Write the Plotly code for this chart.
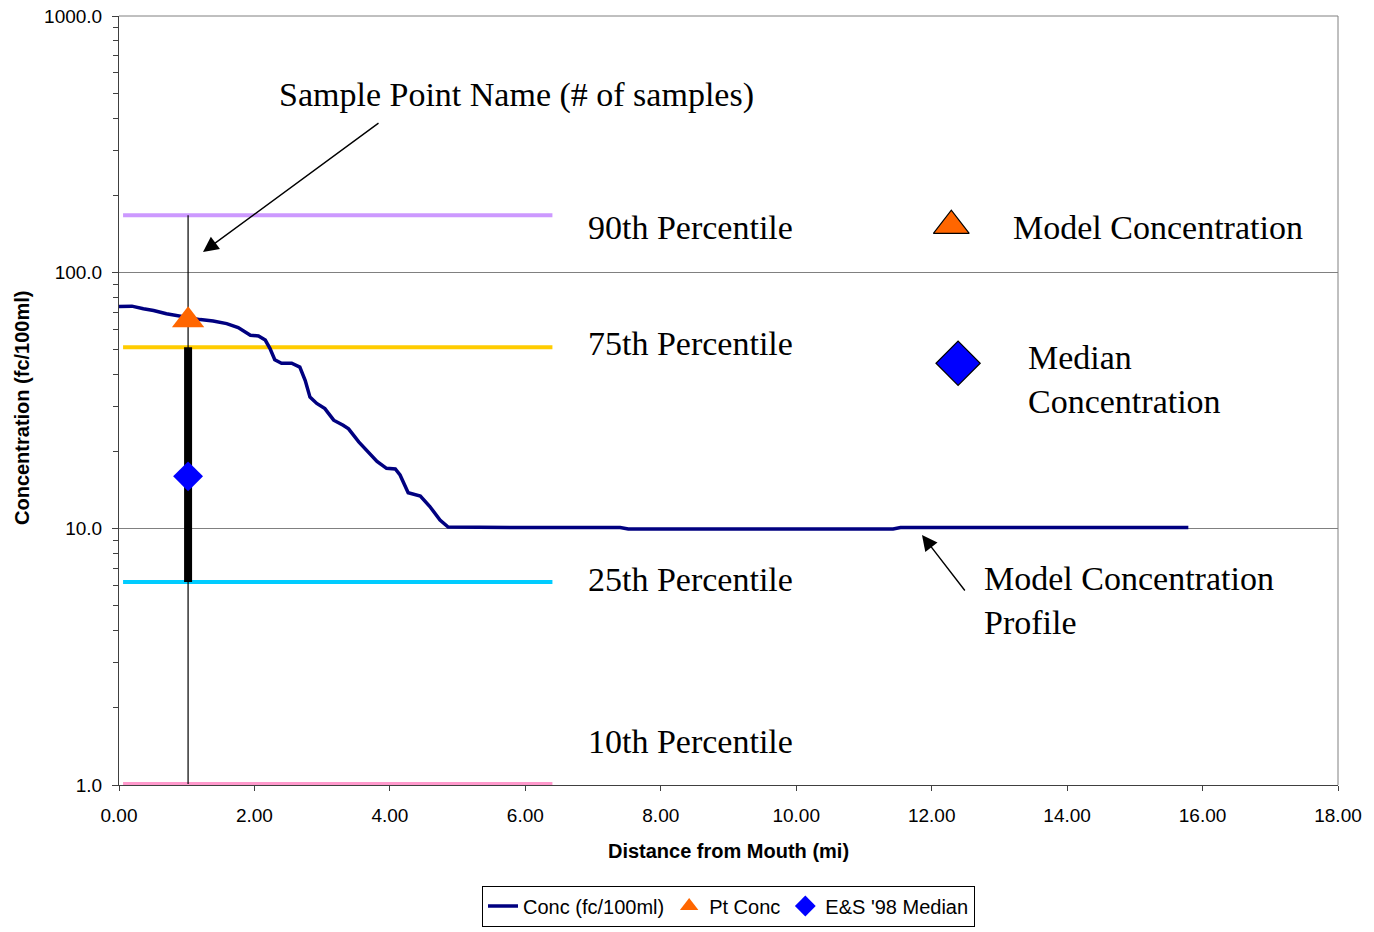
import plotly.graph_objects as go

# ---- data ----
dist_mi = [0.00, 0.19, 0.36, 0.51, 0.70, 0.90, 1.20, 1.39, 1.59, 1.76, 1.94, 2.06, 2.16, 2.23, 2.30,
           2.40, 2.55, 2.67, 2.75, 2.82, 2.92, 3.04, 3.17, 3.31, 3.39, 3.54, 3.81, 3.95, 4.08, 4.15,
           4.27, 4.45, 4.59, 4.74, 4.86, 6.00, 7.40, 7.52, 9.50, 11.43, 11.54, 13.50, 15.79]
conc = [73.6, 73.8, 72.1, 71.0, 68.9, 67.4, 65.4, 64.6, 63.1, 60.9, 56.8, 56.5, 54.4, 50.4, 45.6,
        44.2, 44.2, 42.7, 37.8, 32.6, 30.8, 29.4, 26.5, 25.3, 24.5, 21.8, 18.3, 17.2, 17.1, 16.2,
        13.8, 13.4, 12.2, 10.8, 10.15, 10.1, 10.1, 9.98, 9.98, 9.98, 10.1, 10.1, 10.1]

sample_x = [1.02]
pt_conc = [65.0]
median_conc = [16.0]

pct_names = ["90th Percentile", "75th Percentile", "25th Percentile", "10th Percentile"]
pct_values = [167.0, 51.0, 6.2, 1.01]
pct_colors = ["#CC99FF", "#FFCC00", "#00CCFF", "#FF99CC"]
pct_x_range = [0.06, 6.40]

# key icons (explanatory markers at right)
key_tri = (12.29, 152.0)
key_dia = (12.39, 44.2)

# ---- layout geometry (screen pixels; body margin removed) ----
W, H = 1374, 932
L, R, T, B = 119, 1338, 16, 785

def px2x(px):
    return (px - L) / (R - L) * 18.0

def py2ly(py):
    return 3.0 - (py - T) / (B - T) * 3.0

SERIF = "Liberation Serif"
SANS = "Liberation Sans"

fig = go.Figure()

# percentile lines
for v, c in zip(pct_values, pct_colors):
    fig.add_trace(go.Scatter(x=pct_x_range, y=[v, v], mode="lines",
                             line=dict(color=c, width=4), showlegend=False, hoverinfo="skip"))

# thin vertical line (10th to 90th)
fig.add_trace(go.Scatter(x=[sample_x[0], sample_x[0]], y=[pct_values[3], pct_values[0]], mode="lines",
                         line=dict(color="black", width=1.2), showlegend=False, hoverinfo="skip"))
# thick bar (25th to 75th)
fig.add_trace(go.Scatter(x=[sample_x[0], sample_x[0]], y=[pct_values[2], pct_values[1]], mode="lines",
                         line=dict(color="black", width=8), showlegend=False, hoverinfo="skip"))

# concentration profile
fig.add_trace(go.Scatter(x=dist_mi, y=conc, mode="lines", name="Conc (fc/100ml)",
                         line=dict(color="#000080", width=3.5)))
fig.add_trace(go.Scatter(x=sample_x, y=pt_conc, mode="markers", name="Pt Conc",
                         marker=dict(symbol="triangle-up", size=28, color="#FF6600")))
fig.add_trace(go.Scatter(x=sample_x, y=median_conc, mode="markers", name="E&S '98 Median",
                         marker=dict(symbol="diamond", size=23, color="#0000FF")))

# key icons
fig.add_trace(go.Scatter(x=[key_tri[0]], y=[key_tri[1]], mode="markers", showlegend=False, hoverinfo="skip",
                         marker=dict(symbol="triangle-up", size=31, color="#FF6600",
                                     line=dict(color="black", width=1.2))))
fig.add_trace(go.Scatter(x=[key_dia[0]], y=[key_dia[1]], mode="markers", showlegend=False, hoverinfo="skip",
                         marker=dict(symbol="diamond", size=34, color="#0000FF",
                                     line=dict(color="black", width=1.2))))

annos = []
def text(s, px, py, size=34):
    annos.append(dict(text=s, x=px2x(px), y=py2ly(py), xref="x", yref="y", showarrow=False,
                      xanchor="left", yanchor="middle", align="left",
                      font=dict(family=SERIF, size=size, color="black")))

text("Sample Point Name (# of samples)", 277, 95)
text(pct_names[0], 586, 227)
text(pct_names[1], 586, 343)
text(pct_names[2], 586, 579)
text(pct_names[3], 586, 741)
text("Model Concentration", 1011, 227)
text("Median<br>Concentration", 1026, 379)
text("Model Concentration<br>Profile", 982, 600)

# arrows
annos.append(dict(text="", x=px2x(203), y=py2ly(252), xref="x", yref="y", showarrow=True,
                  ax=177, ay=-130, arrowhead=2, arrowsize=2.2, arrowwidth=1.4, arrowcolor="black"))
annos.append(dict(text="", x=px2x(922), y=py2ly(535), xref="x", yref="y", showarrow=True,
                  ax=44, ay=57, arrowhead=2, arrowsize=2.2, arrowwidth=1.4, arrowcolor="black"))

# y-axis title placed as rotated text
annos.append(dict(text="<b>Concentration (fc/100ml)</b>", xref="paper", yref="paper",
                  x=(22 - L) / (R - L), y=(B - 408) / (B - T), showarrow=False, textangle=-90,
                  xanchor="center", yanchor="middle", font=dict(family=SANS, size=20, color="black")))

legend_y = (B - 906) / (B - T)

fig.update_layout(
    width=W, height=H,
    margin=dict(l=L, r=W - R, t=T, b=H - B, autoexpand=False),
    paper_bgcolor="white", plot_bgcolor="white",
    font=dict(family=SANS, size=19, color="black"),
    annotations=annos,
    showlegend=True,
    legend=dict(orientation="h", x=0.5, xanchor="center", y=legend_y, yanchor="middle",
                bordercolor="black", borderwidth=1, font=dict(family=SANS, size=20),
                itemwidth=30, tracegroupgap=0),
    shapes=[
        dict(type="line", xref="paper", yref="paper", x0=0, x1=1, y0=1, y1=1,
             line=dict(color="#808080", width=1)),
        dict(type="line", xref="paper", yref="paper", x0=1, x1=1, y0=0, y1=1,
             line=dict(color="#808080", width=1)),
    ],
)

fig.update_xaxes(range=[0, 18], dtick=2, tick0=0, tickformat=".2f", showgrid=False, zeroline=False,
                 showline=True, linecolor="#404040", linewidth=1, ticks="outside", ticklen=5,
                 tickcolor="#404040", tickfont=dict(family=SANS, size=19), ticklabelstandoff=8,
                 ticklabeloverflow="allow",
                 title=dict(text="<b>Distance from Mouth (mi)</b>", font=dict(family=SANS, size=20), standoff=19))
fig.update_yaxes(type="log", range=[0, 3], dtick=1, tickformat=".1f", showgrid=True, gridcolor="#808080",
                 gridwidth=1, zeroline=False, showline=True, linecolor="#404040", linewidth=1,
                 ticks="outside", ticklen=6, tickcolor="#404040", tickfont=dict(family=SANS, size=19),
                 ticklabelstandoff=6, ticklabeloverflow="allow",
                 minor=dict(ticks="outside", ticklen=5, tickcolor="#404040", dtick="D1", showgrid=False))

fig.write_html("out.html", config={"displayModeBar": False},
               post_script="document.body.style.margin='0px';")
